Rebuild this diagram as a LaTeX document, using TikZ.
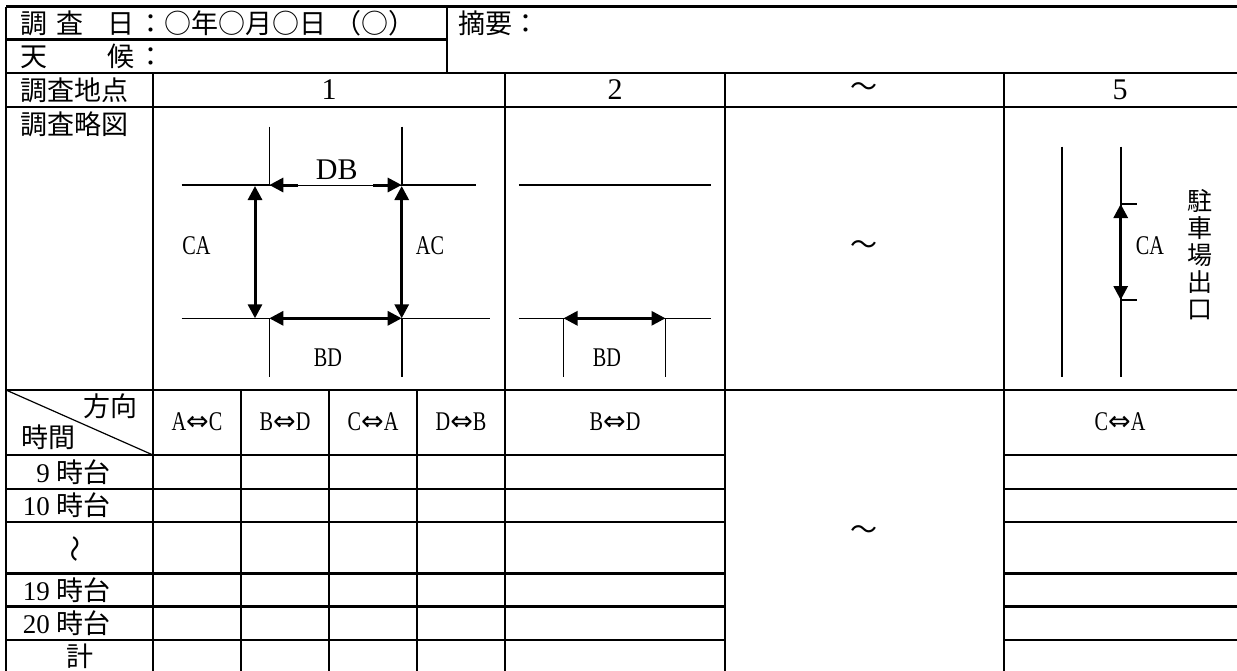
\documentclass[tikz,border=0pt]{standalone}
\usepackage{fontspec}
\usepackage{graphicx}
\usetikzlibrary{arrows.meta}
\setmainfont{Liberation Serif}
\newfontfamily\jp{Noto Sans CJK JP}
\newfontfamily\sym{DejaVu Sans}
\newcommand{\nrw}[1]{\scalebox{0.75}[1]{#1}}
\newcommand{\lrarr}[2]{\nrw{#1}{\sym ⇔}\nrw{#2}}

\begin{document}
\begin{tikzpicture}[x=1pt,y=-1pt,
    tline/.style={line width=2.2pt},
    road/.style={line width=1.6pt},
    darr/.style={line width=3pt,{Triangle[length=14pt,width=14pt]}-{Triangle[length=14pt,width=14pt]}},
    harr/.style={line width=3pt,-{Triangle[length=14pt,width=14pt]}},
    lbl/.style={font=\fontsize{27}{30}\selectfont,inner sep=0pt},
    num/.style={font=\fontsize{30}{32}\selectfont,inner sep=0pt},
    jtxt/.style={font=\jp\fontsize{27}{30}\selectfont,inner sep=0pt}]
    \useasboundingbox (0,0) rectangle (1237,670);

    % table
    \draw[tline] (6,6.5) -- (1240,6.5);
    \draw[tline] (6,39.5) -- (447,39.5);
    \draw[tline] (6,73) -- (1240,73);
    \draw[tline] (6,107) -- (1240,107);
    \draw[tline] (6,390) -- (1240,390);
    \foreach \y in {455,489,522,573.5,606.5,640} {
        \draw[tline] (6,\y) -- (725,\y);
        \draw[tline] (1004,\y) -- (1240,\y);
    }
    \draw[tline] (6,6.5) -- (6,675);
    \draw[tline] (447,6.5) -- (447,73);
    \foreach \x in {153,505,725,1004}
        \draw[tline] (\x,73) -- (\x,675);
    \foreach \x in {241,329,417}
        \draw[tline] (\x,390) -- (\x,675);
    \draw[line width=1.2pt] (6,390) -- (153,455);

    % header texts
    \node[jtxt,anchor=west] (day) at (20,23) {調\hspace{9pt}査\hspace{24pt}日\hspace{3pt}：○年○月○日\hspace{8pt}（○）};
    \node[jtxt,anchor=west] (weather) at (20,56) {天\hspace{60pt}候\hspace{3pt}：};
    \node[jtxt,anchor=west] (memo) at (458,23) {摘要：};
    \node[jtxt,anchor=west] (spot) at (20,90) {調査地点};
    \node[jtxt,anchor=west] (sketch) at (20,124) {調査略図};
    \node[num] (s1) at (329,90) {1};
    \node[num] (s2) at (615,90) {2};
    \node[jtxt] (sdots) at (864,90) {～};
    \node[num] (s5) at (1120,90) {5};

    % point 1
    \draw[road] (181.7,185) -- (269.3,185);
    \draw[road] (401.7,185) -- (476,185);
    \draw[road] (181.7,318.3) -- (269.3,318.3);
    \draw[road] (401.7,318.3) -- (490,318.3);
    \draw[road] (269.3,126.7) -- (269.3,185);
    \draw[road] (401.7,126.7) -- (401.7,185);
    \draw[road] (269.3,318.3) -- (269.3,376.7);
    \draw[road] (401.7,318.3) -- (401.7,376.7);
    \draw[line width=1pt] (269.3,185) -- (401.7,185);
    \draw[harr] (298,185) -- (269.3,185);
    \draw[harr] (373,185) -- (401.7,185);
    \draw[darr] (255,186) -- (255,318.3);
    \draw[darr] (401.7,186) -- (401.7,318.3);
    \draw[darr] (269.3,318.3) -- (401.7,318.3);
    \node[num] (db) at (336.7,170) {DB};
    \node[lbl] (ca1) at (196.5,246) {\nrw{CA}};
    \node[lbl] (ac1) at (430,246) {\nrw{AC}};
    \node[lbl] (bd1) at (328,358) {\nrw{BD}};

    % point 2
    \draw[road] (518.8,185) -- (710.6,185);
    \draw[road] (518.8,318.3) -- (710.6,318.3);
    \draw[road] (563.5,318.3) -- (563.5,376.7);
    \draw[road] (665.5,318.3) -- (665.5,376.7);
    \draw[darr] (563.5,318.3) -- (665.5,318.3);
    \node[lbl] (bd2) at (607,358) {\nrw{BD}};

    \node[jtxt] (gap1) at (864,248) {～};

    % point 5
    \draw[road] (1061.7,146.7) -- (1061.7,376.7);
    \draw[road] (1120.7,146.7) -- (1120.7,376.7);
    \draw[road] (1120.7,204) -- (1136.7,204);
    \draw[road] (1120.7,300) -- (1136.7,300);
    \draw[darr] (1120.7,204) -- (1120.7,300);
    \node[lbl] (ca5) at (1150,246) {\nrw{CA}};
    \node[jtxt,align=center,font=\jp\fontsize{25}{27}\selectfont] (exit) at (1200,255) {駐\\車\\場\\出\\口};

    % direction row
    \node[jtxt,anchor=east] (dir) at (138,406) {方向};
    \node[jtxt,anchor=west] (time) at (21,437) {時間};
    \foreach \x/\a/\b [count=\i] in {197/A/C,285/B/D,373/C/A,461/D/B,615/B/D,1120/C/A}
        \node[lbl] (h\i) at (\x,422) {\lrarr{\a}{\b}};
    \node[jtxt] (gap2) at (864,533) {～};

    % time rows
    \node[jtxt,anchor=east] (t9) at (111,472) {{\rmfamily 9}\hspace{7pt}時台};
    \node[jtxt,anchor=east] (t10) at (111,505.5) {{\rmfamily 10}\hspace{7pt}時台};
    \node[jtxt,rotate=90] (tdots) at (79,549) {〜};
    \node[jtxt,anchor=east] (t19) at (111,590) {{\rmfamily 19}\hspace{7pt}時台};
    \node[jtxt,anchor=east] (t20) at (111,623) {{\rmfamily 20}\hspace{7pt}時台};
    \node[jtxt] (sum) at (80,656) {計};
\end{tikzpicture}
\end{document}
